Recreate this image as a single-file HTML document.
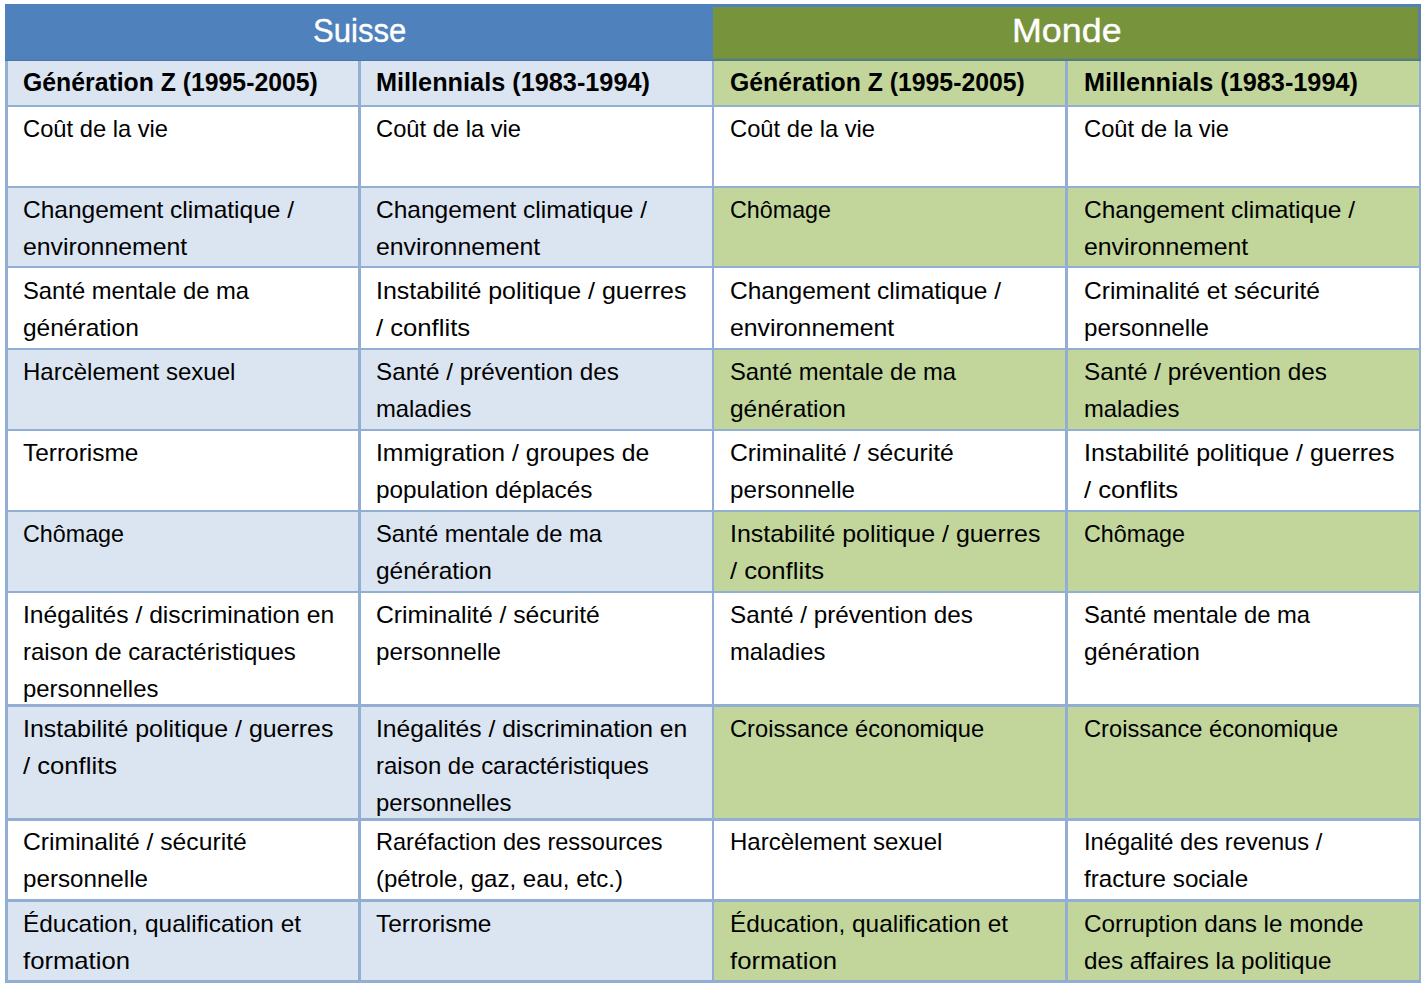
<!DOCTYPE html>
<html><head><meta charset="utf-8"><style>
html,body{margin:0;padding:0;background:#fff;width:1423px;height:987px;overflow:hidden;}
.r{position:absolute;}
.t{position:absolute;white-space:nowrap;font-family:"Liberation Sans",sans-serif;color:#000;transform-origin:0 0;}
</style></head><body>
<div class="r" style="left:5px;top:4px;width:1416px;height:979px;background:#fff"></div>
<div class="r" style="left:5px;top:4px;width:708px;height:57px;background:#4F81BD"></div>
<div class="r" style="left:713px;top:4px;width:708px;height:57px;background:#4F81BD"></div>
<div class="r" style="left:713px;top:7px;width:705px;height:51px;background:#77933C"></div>
<div class="r" style="left:1418px;top:7px;width:3px;height:52px;background:#5E80A0"></div>
<div class="r" style="left:713px;top:58px;width:705px;height:1px;background:#658C6E"></div>
<div class="r" style="left:713px;top:59px;width:708px;height:2px;background:#557D74"></div>
<div class="r" style="left:5px;top:60px;width:708px;height:1px;background:#4A74A4"></div>
<div class="r" style="left:5px;top:61px;width:708px;height:44px;background:#DBE5F1"></div>
<div class="r" style="left:713px;top:61px;width:708px;height:44px;background:#C2D69B"></div>
<div class="r" style="left:5px;top:188px;width:708px;height:78px;background:#DBE5F1"></div>
<div class="r" style="left:713px;top:188px;width:708px;height:78px;background:#C2D69B"></div>
<div class="r" style="left:5px;top:350px;width:708px;height:79px;background:#DBE5F1"></div>
<div class="r" style="left:713px;top:350px;width:708px;height:79px;background:#C2D69B"></div>
<div class="r" style="left:5px;top:512px;width:708px;height:79px;background:#DBE5F1"></div>
<div class="r" style="left:713px;top:512px;width:708px;height:79px;background:#C2D69B"></div>
<div class="r" style="left:5px;top:707px;width:708px;height:111px;background:#DBE5F1"></div>
<div class="r" style="left:713px;top:707px;width:708px;height:111px;background:#C2D69B"></div>
<div class="r" style="left:5px;top:902px;width:708px;height:78px;background:#DBE5F1"></div>
<div class="r" style="left:713px;top:902px;width:708px;height:78px;background:#C2D69B"></div>
<div class="r" style="left:5px;top:105px;width:1416px;height:2px;background:#93AED3"></div>
<div class="r" style="left:5px;top:186px;width:1416px;height:2px;background:#93AED3"></div>
<div class="r" style="left:5px;top:266px;width:1416px;height:2px;background:#93AED3"></div>
<div class="r" style="left:5px;top:348px;width:1416px;height:2px;background:#93AED3"></div>
<div class="r" style="left:5px;top:429px;width:1416px;height:2px;background:#93AED3"></div>
<div class="r" style="left:5px;top:510px;width:1416px;height:2px;background:#93AED3"></div>
<div class="r" style="left:5px;top:591px;width:1416px;height:2px;background:#93AED3"></div>
<div class="r" style="left:5px;top:704px;width:1416px;height:3px;background:#93AED3"></div>
<div class="r" style="left:5px;top:818px;width:1416px;height:3px;background:#93AED3"></div>
<div class="r" style="left:5px;top:899px;width:1416px;height:3px;background:#93AED3"></div>
<div class="r" style="left:5px;top:980px;width:1416px;height:3px;background:#93AED3"></div>
<div class="r" style="left:5px;top:61px;width:3px;height:922px;background:#93AED3"></div>
<div class="r" style="left:358px;top:61px;width:3px;height:922px;background:#93AED3"></div>
<div class="r" style="left:712px;top:61px;width:2px;height:922px;background:#93AED3"></div>
<div class="r" style="left:1065px;top:61px;width:3px;height:922px;background:#93AED3"></div>
<div class="r" style="left:1419px;top:61px;width:2px;height:922px;background:#93AED3"></div>
<div class="t" style="left:312.94px;top:11.24px;font-size:32.5px;line-height:40px;transform:scaleX(0.9563);color:#fff;-webkit-text-stroke:0.35px #fff;">Suisse</div>
<div class="t" style="left:1011.59px;top:11.24px;font-size:32.5px;line-height:40px;transform:scaleX(1.1028);color:#fff;-webkit-text-stroke:0.35px #fff;">Monde</div>
<div class="t" style="left:23.00px;top:62.14px;font-size:25.0px;line-height:40px;transform:scaleX(0.9915);font-weight:bold;">Génération Z (1995-2005)</div>
<div class="t" style="left:376.00px;top:62.14px;font-size:25.0px;line-height:40px;transform:scaleX(1.0110);font-weight:bold;">Millennials (1983-1994)</div>
<div class="t" style="left:730.00px;top:62.14px;font-size:25.0px;line-height:40px;transform:scaleX(0.9915);font-weight:bold;">Génération Z (1995-2005)</div>
<div class="t" style="left:1083.50px;top:62.14px;font-size:25.0px;line-height:40px;transform:scaleX(1.0110);font-weight:bold;">Millennials (1983-1994)</div>
<div class="t" style="left:23.00px;top:108.68px;font-size:24.0px;line-height:40px;transform:scaleX(0.9883);">Coût de la vie</div>
<div class="t" style="left:376.00px;top:108.68px;font-size:24.0px;line-height:40px;transform:scaleX(0.9883);">Coût de la vie</div>
<div class="t" style="left:730.00px;top:108.68px;font-size:24.0px;line-height:40px;transform:scaleX(0.9883);">Coût de la vie</div>
<div class="t" style="left:1083.50px;top:108.68px;font-size:24.0px;line-height:40px;transform:scaleX(0.9883);">Coût de la vie</div>
<div class="t" style="left:23.00px;top:189.68px;font-size:24.0px;line-height:40px;transform:scaleX(1.0210);">Changement climatique /</div>
<div class="t" style="left:23.00px;top:226.68px;font-size:24.0px;line-height:40px;transform:scaleX(1.0340);">environnement</div>
<div class="t" style="left:376.00px;top:189.68px;font-size:24.0px;line-height:40px;transform:scaleX(1.0210);">Changement climatique /</div>
<div class="t" style="left:376.00px;top:226.68px;font-size:24.0px;line-height:40px;transform:scaleX(1.0340);">environnement</div>
<div class="t" style="left:730.00px;top:189.68px;font-size:24.0px;line-height:40px;transform:scaleX(0.9709);">Chômage</div>
<div class="t" style="left:1083.50px;top:189.68px;font-size:24.0px;line-height:40px;transform:scaleX(1.0210);">Changement climatique /</div>
<div class="t" style="left:1083.50px;top:226.68px;font-size:24.0px;line-height:40px;transform:scaleX(1.0340);">environnement</div>
<div class="t" style="left:23.00px;top:270.68px;font-size:24.0px;line-height:40px;transform:scaleX(0.9909);">Santé mentale de ma</div>
<div class="t" style="left:23.00px;top:307.68px;font-size:24.0px;line-height:40px;transform:scaleX(1.0207);">génération</div>
<div class="t" style="left:376.00px;top:270.68px;font-size:24.0px;line-height:40px;transform:scaleX(1.0387);">Instabilité politique / guerres</div>
<div class="t" style="left:376.00px;top:307.68px;font-size:24.0px;line-height:40px;transform:scaleX(1.0689);">/ conflits</div>
<div class="t" style="left:730.00px;top:270.68px;font-size:24.0px;line-height:40px;transform:scaleX(1.0210);">Changement climatique /</div>
<div class="t" style="left:730.00px;top:307.68px;font-size:24.0px;line-height:40px;transform:scaleX(1.0340);">environnement</div>
<div class="t" style="left:1083.50px;top:270.68px;font-size:24.0px;line-height:40px;transform:scaleX(1.0222);">Criminalité et sécurité</div>
<div class="t" style="left:1083.50px;top:307.68px;font-size:24.0px;line-height:40px;transform:scaleX(1.0069);">personnelle</div>
<div class="t" style="left:23.00px;top:351.68px;font-size:24.0px;line-height:40px;transform:scaleX(1.0011);">Harcèlement sexuel</div>
<div class="t" style="left:376.00px;top:351.68px;font-size:24.0px;line-height:40px;transform:scaleX(1.0110);">Santé / prévention des</div>
<div class="t" style="left:376.00px;top:388.68px;font-size:24.0px;line-height:40px;transform:scaleX(0.9922);">maladies</div>
<div class="t" style="left:730.00px;top:351.68px;font-size:24.0px;line-height:40px;transform:scaleX(0.9909);">Santé mentale de ma</div>
<div class="t" style="left:730.00px;top:388.68px;font-size:24.0px;line-height:40px;transform:scaleX(1.0207);">génération</div>
<div class="t" style="left:1083.50px;top:351.68px;font-size:24.0px;line-height:40px;transform:scaleX(1.0110);">Santé / prévention des</div>
<div class="t" style="left:1083.50px;top:388.68px;font-size:24.0px;line-height:40px;transform:scaleX(0.9922);">maladies</div>
<div class="t" style="left:23.00px;top:432.68px;font-size:24.0px;line-height:40px;transform:scaleX(1.0186);">Terrorisme</div>
<div class="t" style="left:376.00px;top:432.68px;font-size:24.0px;line-height:40px;transform:scaleX(1.0294);">Immigration / groupes de</div>
<div class="t" style="left:376.00px;top:469.68px;font-size:24.0px;line-height:40px;transform:scaleX(1.0140);">population déplacés</div>
<div class="t" style="left:730.00px;top:432.68px;font-size:24.0px;line-height:40px;transform:scaleX(1.0293);">Criminalité / sécurité</div>
<div class="t" style="left:730.00px;top:469.68px;font-size:24.0px;line-height:40px;transform:scaleX(1.0069);">personnelle</div>
<div class="t" style="left:1083.50px;top:432.68px;font-size:24.0px;line-height:40px;transform:scaleX(1.0387);">Instabilité politique / guerres</div>
<div class="t" style="left:1083.50px;top:469.68px;font-size:24.0px;line-height:40px;transform:scaleX(1.0689);">/ conflits</div>
<div class="t" style="left:23.00px;top:513.68px;font-size:24.0px;line-height:40px;transform:scaleX(0.9709);">Chômage</div>
<div class="t" style="left:376.00px;top:513.68px;font-size:24.0px;line-height:40px;transform:scaleX(0.9909);">Santé mentale de ma</div>
<div class="t" style="left:376.00px;top:550.68px;font-size:24.0px;line-height:40px;transform:scaleX(1.0207);">génération</div>
<div class="t" style="left:730.00px;top:513.68px;font-size:24.0px;line-height:40px;transform:scaleX(1.0387);">Instabilité politique / guerres</div>
<div class="t" style="left:730.00px;top:550.68px;font-size:24.0px;line-height:40px;transform:scaleX(1.0689);">/ conflits</div>
<div class="t" style="left:1083.50px;top:513.68px;font-size:24.0px;line-height:40px;transform:scaleX(0.9709);">Chômage</div>
<div class="t" style="left:23.00px;top:594.68px;font-size:24.0px;line-height:40px;transform:scaleX(1.0276);">Inégalités / discrimination en</div>
<div class="t" style="left:23.00px;top:631.68px;font-size:24.0px;line-height:40px;transform:scaleX(0.9976);">raison de caractéristiques</div>
<div class="t" style="left:23.00px;top:668.68px;font-size:24.0px;line-height:40px;transform:scaleX(0.9949);">personnelles</div>
<div class="t" style="left:376.00px;top:594.68px;font-size:24.0px;line-height:40px;transform:scaleX(1.0293);">Criminalité / sécurité</div>
<div class="t" style="left:376.00px;top:631.68px;font-size:24.0px;line-height:40px;transform:scaleX(1.0069);">personnelle</div>
<div class="t" style="left:730.00px;top:594.68px;font-size:24.0px;line-height:40px;transform:scaleX(1.0110);">Santé / prévention des</div>
<div class="t" style="left:730.00px;top:631.68px;font-size:24.0px;line-height:40px;transform:scaleX(0.9922);">maladies</div>
<div class="t" style="left:1083.50px;top:594.68px;font-size:24.0px;line-height:40px;transform:scaleX(0.9909);">Santé mentale de ma</div>
<div class="t" style="left:1083.50px;top:631.68px;font-size:24.0px;line-height:40px;transform:scaleX(1.0207);">génération</div>
<div class="t" style="left:23.00px;top:708.68px;font-size:24.0px;line-height:40px;transform:scaleX(1.0387);">Instabilité politique / guerres</div>
<div class="t" style="left:23.00px;top:745.68px;font-size:24.0px;line-height:40px;transform:scaleX(1.0689);">/ conflits</div>
<div class="t" style="left:376.00px;top:708.68px;font-size:24.0px;line-height:40px;transform:scaleX(1.0276);">Inégalités / discrimination en</div>
<div class="t" style="left:376.00px;top:745.68px;font-size:24.0px;line-height:40px;transform:scaleX(0.9976);">raison de caractéristiques</div>
<div class="t" style="left:376.00px;top:782.68px;font-size:24.0px;line-height:40px;transform:scaleX(0.9949);">personnelles</div>
<div class="t" style="left:730.00px;top:708.68px;font-size:24.0px;line-height:40px;transform:scaleX(0.9867);">Croissance économique</div>
<div class="t" style="left:1083.50px;top:708.68px;font-size:24.0px;line-height:40px;transform:scaleX(0.9867);">Croissance économique</div>
<div class="t" style="left:23.00px;top:821.68px;font-size:24.0px;line-height:40px;transform:scaleX(1.0293);">Criminalité / sécurité</div>
<div class="t" style="left:23.00px;top:858.68px;font-size:24.0px;line-height:40px;transform:scaleX(1.0069);">personnelle</div>
<div class="t" style="left:376.00px;top:821.68px;font-size:24.0px;line-height:40px;transform:scaleX(0.9807);">Raréfaction des ressources</div>
<div class="t" style="left:376.00px;top:858.68px;font-size:24.0px;line-height:40px;transform:scaleX(1.0004);">(pétrole, gaz, eau, etc.)</div>
<div class="t" style="left:730.00px;top:821.68px;font-size:24.0px;line-height:40px;transform:scaleX(1.0011);">Harcèlement sexuel</div>
<div class="t" style="left:1083.50px;top:821.68px;font-size:24.0px;line-height:40px;transform:scaleX(0.9867);">Inégalité des revenus /</div>
<div class="t" style="left:1083.50px;top:858.68px;font-size:24.0px;line-height:40px;transform:scaleX(1.0087);">fracture sociale</div>
<div class="t" style="left:23.00px;top:903.68px;font-size:24.0px;line-height:40px;transform:scaleX(1.0163);">Éducation, qualification et</div>
<div class="t" style="left:23.00px;top:940.68px;font-size:24.0px;line-height:40px;transform:scaleX(1.0689);">formation</div>
<div class="t" style="left:376.00px;top:903.68px;font-size:24.0px;line-height:40px;transform:scaleX(1.0186);">Terrorisme</div>
<div class="t" style="left:730.00px;top:903.68px;font-size:24.0px;line-height:40px;transform:scaleX(1.0163);">Éducation, qualification et</div>
<div class="t" style="left:730.00px;top:940.68px;font-size:24.0px;line-height:40px;transform:scaleX(1.0689);">formation</div>
<div class="t" style="left:1083.50px;top:903.68px;font-size:24.0px;line-height:40px;transform:scaleX(1.0123);">Corruption dans le monde</div>
<div class="t" style="left:1083.50px;top:940.68px;font-size:24.0px;line-height:40px;transform:scaleX(1.0094);">des affaires la politique</div>
</body></html>
